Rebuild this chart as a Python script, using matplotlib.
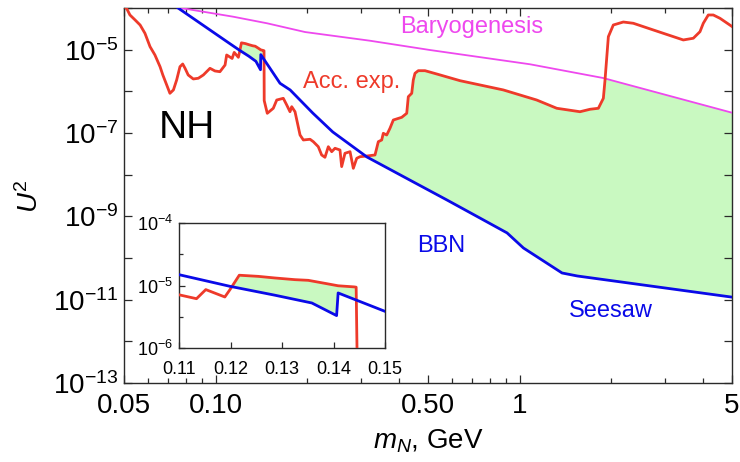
import numpy as np
import matplotlib
matplotlib.use('Agg')
import matplotlib.pyplot as plt
from matplotlib.ticker import FixedLocator, FixedFormatter, NullFormatter, LogLocator, FuncFormatter

plt.rcParams['font.family'] = ['Liberation Sans', 'DejaVu Sans']
plt.rcParams['mathtext.fontset'] = 'custom'
plt.rcParams['mathtext.rm'] = 'Liberation Sans'
plt.rcParams['mathtext.it'] = 'Liberation Sans:italic'
plt.rcParams['mathtext.bf'] = 'Liberation Sans:bold'

# ---------------- data ----------------
# accelerator experiments limit (red)
acc_mass = [0.0500, 0.0510, 0.0523, 0.0544, 0.0565, 0.0586, 0.0609, 0.0632, 0.0657, 0.0671,
            0.0691, 0.0708, 0.0727, 0.0745, 0.0764, 0.0780, 0.0794, 0.0813, 0.0845, 0.0878,
            0.0912, 0.0959, 0.0996, 0.1034, 0.1075, 0.1088, 0.1100, 0.1134, 0.1152, 0.1189,
            0.1199, 0.1217, 0.1254, 0.1286, 0.1325, 0.1351, 0.1384, 0.1409, 0.1440, 0.1444,
            0.1446, 0.1480, 0.1549, 0.1590, 0.1671, 0.1715, 0.1758, 0.1781, 0.1826, 0.1897,
            0.1945, 0.2046, 0.2098, 0.2178, 0.2234, 0.2291, 0.2350, 0.2411, 0.2472, 0.2567,
            0.2600, 0.2666, 0.2770, 0.2840, 0.2914, 0.2988, 0.3143, 0.3347, 0.3432, 0.3521,
            0.3564, 0.3657, 0.3749, 0.3845, 0.4098, 0.4256, 0.4307, 0.4420, 0.4473, 0.4531,
            0.4646, 0.4887, 0.5340, 0.6374, 0.8845, 1.139, 1.326, 1.581, 1.706, 1.817,
            1.887, 1.911, 1.960, 2.035, 2.195, 2.368, 2.755, 3.458, 3.730, 3.923,
            4.023, 4.178, 4.339, 4.565, 5.000]
acc_u2 = [1.1e-4, 9.8e-5, 6.8e-5, 5.15e-5, 3.9e-5, 2.47e-5, 1.18e-5, 7.45e-6, 3.9e-6, 2.47e-6,
          1.42e-6, 8.97e-7, 1.08e-6, 1.87e-6, 3.9e-6, 4.53e-6, 3.57e-6, 2.47e-6, 1.98e-6, 2.06e-6,
          2.47e-6, 3.57e-6, 3.08e-6, 2.96e-6, 4.28e-6, 7.45e-6, 7.1e-6, 6.15e-6, 8.6e-6, 6.55e-6,
          8.6e-6, 1.46e-5, 1.40e-5, 1.32e-5, 1.24e-5, 1.21e-5, 1.08e-5, 9.9e-6, 9.5e-6, 9.4e-6,
          6.0e-7, 2.97e-7, 3.92e-7, 6.19e-7, 6.8e-7, 4.7e-7, 3.24e-7, 4.28e-7, 3.24e-7, 8.95e-8,
          6.8e-8, 7.07e-8, 6.18e-8, 4.69e-8, 2.97e-8, 2.61e-8, 4.69e-8, 3.56e-8, 4.3e-8, 3.91e-8,
          1.56e-8, 3.26e-8, 3.56e-8, 1.42e-8, 2.47e-8, 2.7e-8, 2.8e-8, 2.97e-8, 6.18e-8, 6.8e-8,
          9.84e-8, 8.95e-8, 1.3e-7, 2.05e-7, 2.38e-7, 2.97e-7, 7.43e-7, 8.97e-7, 1.87e-6, 2.71e-6,
          3.13e-6, 3.13e-6, 2.61e-6, 1.8e-6, 1.08e-6, 6.19e-7, 3.92e-7, 3.24e-7, 3.71e-7, 3.92e-7,
          6.8e-7, 1.87e-6, 2.05e-5, 3.91e-5, 4.61e-5, 4.3e-5, 2.97e-5, 1.71e-5, 1.88e-5, 2.7e-5,
          4.3e-5, 6.8e-5, 6.8e-5, 5.66e-5, 3.6e-5]

# BBN / seesaw lower bound (blue)
bbn_mass = [0.0753, 0.1100, 0.1199, 0.1286, 0.1358, 0.1406, 0.1409, 0.1500, 0.1630, 0.1760,
            0.2090, 0.2430, 0.3150, 0.4360, 0.5770, 0.7410, 0.9100, 1.030, 1.380, 1.550, 5.000]
bbn_u2 = [1.0e-4, 1.49e-5, 9.7e-6, 7.0e-6, 5.25e-6, 3.3e-6, 7.6e-6, 3.86e-6, 1.56e-6, 1.08e-6,
          3.0e-7, 1.06e-7, 2.65e-8, 7.4e-9, 2.47e-9, 9.1e-10, 4.0e-10, 1.74e-10, 4.37e-11, 3.7e-11,
          1.15e-11]

# baryogenesis upper bound (magenta)
baryo_mass = [0.0764, 0.0824, 0.1142, 0.1477, 0.1970, 0.3220, 0.5080, 1.083, 1.883, 5.000]
baryo_u2 = [1.01e-4, 9.2e-5, 6.19e-5, 4.3e-5, 2.65e-5, 1.64e-5, 9.8e-6, 4.46e-6, 2.09e-6, 3.07e-7]

x_ticks = [0.05, 0.1, 0.5, 1, 5]
x_tick_labels = ['0.05', '0.10', '0.50', '1', '5']
y_exps = [-13, -12, -11, -10, -9, -8, -7, -6, -5, -4]
y_label_exps = [-13, -11, -9, -7, -5]

inset_x_ticks = [0.11, 0.12, 0.13, 0.14, 0.15]
inset_x_labels = ['0.11', '0.12', '0.13', '0.14', '0.15']
inset_y_exps = [-6, -5, -4]
inset_y_minor = [10**-5.5, 10**-4.5]

RED = '#ee3a2a'
BLUE = '#0a0ae8'
MAG = '#ee48ee'
GREEN = '#c9f9c1'
FRAME = '#2a2a2a'

fig = plt.figure(figsize=(7.4, 4.62), dpi=100)
ax = fig.add_axes([124/740, 1-383/462, (732-124)/740, (383-8)/462])

am, au = np.array(acc_mass), np.array(acc_u2)
bm, bu = np.array(bbn_mass), np.array(bbn_u2)
gm, gu = np.array(baryo_mass), np.array(baryo_u2)

# fill region allowed: between blue and min(red, magenta)
grid = np.logspace(np.log10(bm[0]), np.log10(5.0), 6000)
lg = np.log10(grid)
lr = np.interp(lg, np.log10(am), np.log10(au))
lb = np.interp(lg, np.log10(bm), np.log10(bu))
lmg = np.interp(lg, np.log10(gm), np.log10(gu))
up = np.minimum(lr, lmg)
ax.fill_between(grid, 10**lb, 10**up, where=up > lb, interpolate=True,
                color=GREEN, lw=0, zorder=1)

ax.plot(gm, gu, color=MAG, lw=1.3, zorder=3)
ax.plot(am, au, color=RED, lw=2.0, zorder=4, solid_joinstyle='round')
ax.plot(bm, bu, color=BLUE, lw=2.0, zorder=5, solid_joinstyle='round')

ax.set_xscale('log')
ax.set_yscale('log')
ax.set_xlim(0.05, 5)
ax.set_ylim(1e-13, 1e-4)

ax.xaxis.set_major_locator(FixedLocator(x_ticks))
ax.xaxis.set_major_formatter(FixedFormatter(x_tick_labels))
ax.xaxis.set_minor_locator(LogLocator(base=10, subs=np.arange(2, 10), numticks=20))
ax.xaxis.set_minor_formatter(NullFormatter())
ax.yaxis.set_major_locator(FixedLocator([10.0**e for e in y_exps]))
ax.yaxis.set_major_formatter(FuncFormatter(
    lambda v, p: (r'$10^{%d}$' % round(np.log10(v))) if round(np.log10(v)) in y_label_exps else ''))
ax.yaxis.set_minor_locator(FixedLocator([]))

ax.tick_params(which='both', direction='in', top=True, right=True, color=FRAME, width=0.9)
ax.tick_params(which='major', length=6, labelsize=20, pad=7)
ax.tick_params(which='minor', length=3.5)
ax.tick_params(axis='y', which='major', pad=4)
for s in ax.spines.values():
    s.set_color(FRAME)
    s.set_linewidth(1.0)

ax.text(0.572, 0.949, 'Baryogenesis', transform=ax.transAxes, color=MAG, fontsize=17,
        ha='center', va='center')
ax.text(0.375, 0.803, 'Acc. exp.', transform=ax.transAxes, color=RED, fontsize=17,
        ha='center', va='center')
ax.text(0.1028, 0.681, 'NH', transform=ax.transAxes, color='black', fontsize=28,
        ha='center', va='center')
ax.text(0.521, 0.365, 'BBN', transform=ax.transAxes, color=BLUE, fontsize=17,
        ha='center', va='center')
ax.text(0.801, 0.192, 'Seesaw', transform=ax.transAxes, color=BLUE, fontsize=17,
        ha='center', va='center')

fig.text(30/740, 1-196/462, r'$U^2$', rotation=90, fontsize=20, ha='center', va='center')
fig.text(428/740, 1-441/462, r'$m_N$, GeV', fontsize=20, ha='center', va='center')

# ---------------- inset ----------------
ins = fig.add_axes([179/740, 1-348/462, (385-179)/740, (348-223)/462])
ins.set_facecolor('white')
ins.set_zorder(10)
g2 = np.linspace(0.11, 0.15, 6000)
lr2 = np.interp(g2, am, np.log10(au))
lb2 = np.interp(g2, bm, np.log10(bu))
ins.fill_between(g2, 10**lb2, 10**lr2, where=lr2 > lb2, interpolate=True,
                 color=GREEN, lw=0, zorder=1)
ins.plot(am, au, color=RED, lw=2.0, zorder=4)
ins.plot(bm, bu, color=BLUE, lw=2.0, zorder=5)
ins.set_yscale('log')
ins.set_xlim(0.11, 0.15)
ins.set_ylim(1e-6, 1e-4)
ins.xaxis.set_major_locator(FixedLocator(inset_x_ticks))
ins.xaxis.set_major_formatter(FixedFormatter(inset_x_labels))
ins.yaxis.set_major_locator(FixedLocator([10.0**e for e in inset_y_exps]))
ins.yaxis.set_major_formatter(FuncFormatter(lambda v, p: r'$10^{%d}$' % round(np.log10(v))))
ins.yaxis.set_minor_locator(FixedLocator(inset_y_minor))
ins.yaxis.set_minor_formatter(NullFormatter())
ins.tick_params(which='both', direction='in', color=FRAME, width=0.9)
ins.tick_params(which='major', length=4.5, labelsize=13, pad=4)
ins.tick_params(axis='x', which='major', pad=9.5)
ins.tick_params(which='minor', length=3)
for s in ins.spines.values():
    s.set_color(FRAME)
    s.set_linewidth(1.0)

fig.savefig('out.png', dpi=100)
